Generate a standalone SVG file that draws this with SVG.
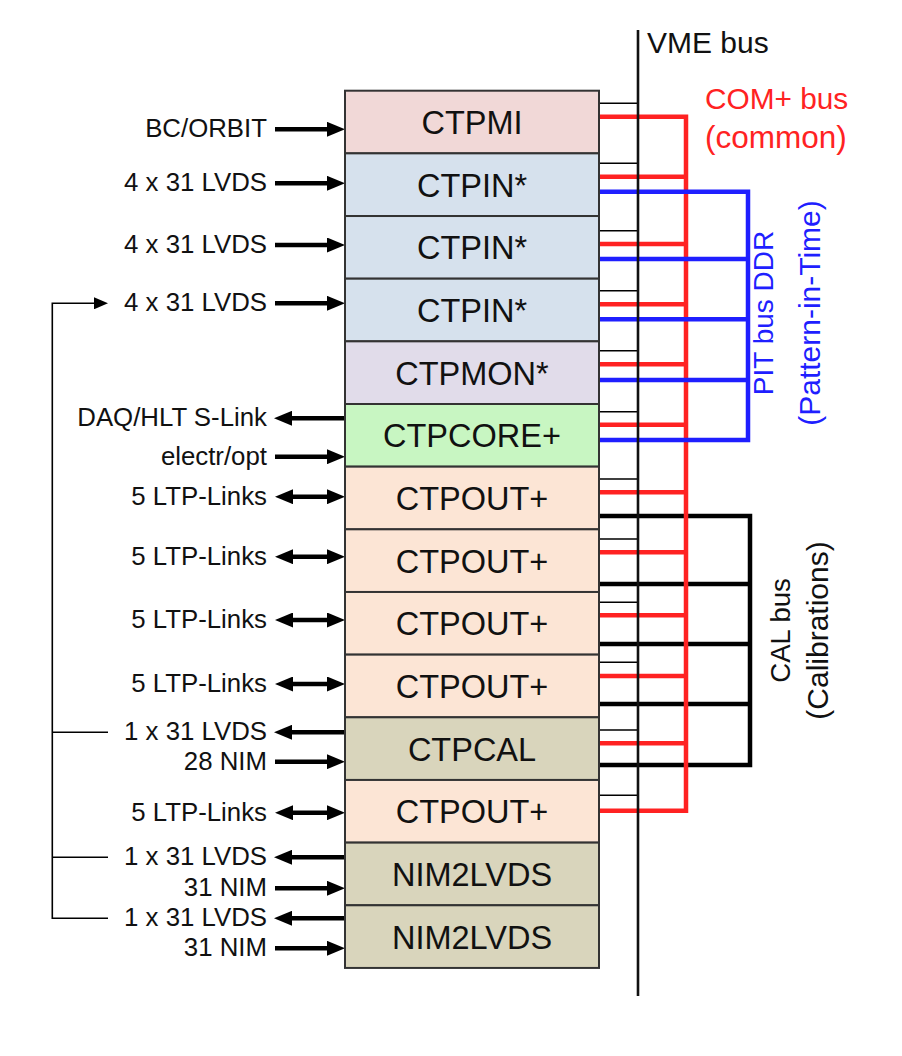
<svg xmlns="http://www.w3.org/2000/svg" width="902" height="1056" viewBox="0 0 902 1056">
<style>
.box{stroke:#333;stroke-width:2}
.bl{font-family:"Liberation Sans",Arial,sans-serif;font-size:32.5px;fill:#111;text-anchor:middle}
.ll{font-family:"Liberation Sans",Arial,sans-serif;font-size:25.8px;fill:#111;text-anchor:end}
.arr{stroke:#000;stroke-width:4.5;fill:none}
.thin{stroke:#000;stroke-width:1.6;fill:none}
.vme{stroke:#111;stroke-width:2.6;fill:none}
.red{stroke:#ff2222;stroke-width:4.5;fill:none}
.blue{stroke:#1f1fff;stroke-width:4.5;fill:none}
.cal{stroke:#000;stroke-width:4.5;fill:none}
.rt{font-family:"Liberation Sans",Arial,sans-serif}
</style>
<defs>
<marker id="ah" markerUnits="userSpaceOnUse" markerWidth="18" markerHeight="15" refX="8" refY="7.5" orient="auto-start-reverse">
<path d="M0,0 L18,7.5 L0,15 Z" fill="#000"/>
</marker>
<marker id="ta" markerUnits="userSpaceOnUse" markerWidth="14" markerHeight="12" refX="1" refY="6" orient="auto">
<path d="M0,0 L14,6 L0,12 Z" fill="#000"/>
</marker>
</defs>
<rect width="902" height="1056" fill="#fff"/>

<g id="connectors">
<g class="thin">
<path d="M599,103.3H638M599,163.3H638M599,230.7H638M599,290.7H638M599,350.7H638M599,411.7H638M599,479H638M599,539H638M599,602.3H638M599,662.3H638M599,730H638M599,795.3H638"/>
</g>
<path class="cal" d="M599,516H750V765H599M599,584H750M599,644H750M599,704H750"/>
<path class="red" d="M599,116.7H686V810.7H599M599,176.7H686M599,244H686M599,304.3H686M599,364.3H686M599,424.7H686M599,492.3H686M599,552.3H686M599,615.3H686M599,676H686M599,743.3H686"/>
<path class="blue" d="M599,191.7H748V440H599M599,259H748M599,319.3H748M599,380H748"/>
<path class="vme" d="M638,30V996"/>
<g class="arr">
<line x1="275" y1="129.3" x2="335" y2="129.3" marker-end="url(#ah)"/>
<line x1="275" y1="183.3" x2="335" y2="183.3" marker-end="url(#ah)"/>
<line x1="275" y1="245" x2="335" y2="245" marker-end="url(#ah)"/>
<line x1="275" y1="303.3" x2="335" y2="303.3" marker-end="url(#ah)"/>
<line x1="284" y1="418.3" x2="345" y2="418.3" marker-start="url(#ah)"/>
<line x1="275" y1="456.7" x2="335" y2="456.7" marker-end="url(#ah)"/>
<line x1="285" y1="496.7" x2="335" y2="496.7" marker-start="url(#ah)" marker-end="url(#ah)"/>
<line x1="285" y1="556.7" x2="335" y2="556.7" marker-start="url(#ah)" marker-end="url(#ah)"/>
<line x1="285" y1="620" x2="335" y2="620" marker-start="url(#ah)" marker-end="url(#ah)"/>
<line x1="285" y1="684" x2="335" y2="684" marker-start="url(#ah)" marker-end="url(#ah)"/>
<line x1="284" y1="732.3" x2="345" y2="732.3" marker-start="url(#ah)"/>
<line x1="275" y1="761.7" x2="335" y2="761.7" marker-end="url(#ah)"/>
<line x1="285" y1="812.7" x2="335" y2="812.7" marker-start="url(#ah)" marker-end="url(#ah)"/>
<line x1="284" y1="857.3" x2="345" y2="857.3" marker-start="url(#ah)"/>
<line x1="275" y1="888.3" x2="335" y2="888.3" marker-end="url(#ah)"/>
<line x1="284" y1="918.3" x2="345" y2="918.3" marker-start="url(#ah)"/>
<line x1="275" y1="948.3" x2="335" y2="948.3" marker-end="url(#ah)"/>
</g>
<path class="thin" d="M108,918.3H52.3V303.3H95" marker-end="url(#ta)"/>
<path class="thin" d="M52.3,732.3H108M52.3,857.3H108"/>
</g>

<g id="node-ctpmi"><rect class="box" x="345" y="90.7" width="254" height="62.66" fill="#f1d8d7"/><text class="bl" x="472" y="134">CTPMI</text></g>
<g id="node-ctpin1"><rect class="box" x="345" y="153.36" width="254" height="62.66" fill="#d6e1ed"/><text class="bl" x="472" y="196.7">CTPIN*</text></g>
<g id="node-ctpin2"><rect class="box" x="345" y="216.02" width="254" height="62.66" fill="#d6e1ed"/><text class="bl" x="472" y="259.3">CTPIN*</text></g>
<g id="node-ctpin3"><rect class="box" x="345" y="278.68" width="254" height="62.66" fill="#d6e1ed"/><text class="bl" x="472" y="322">CTPIN*</text></g>
<g id="node-ctpmon"><rect class="box" x="345" y="341.34" width="254" height="62.66" fill="#e1dcea"/><text class="bl" x="472" y="384.7">CTPMON*</text></g>
<g id="node-ctpcore"><rect class="box" x="345" y="404" width="254" height="62.66" fill="#c8f6c2"/><text class="bl" x="472" y="447.3">CTPCORE+</text></g>
<g id="node-ctpout1"><rect class="box" x="345" y="466.66" width="254" height="62.66" fill="#fce5d5"/><text class="bl" x="472" y="510">CTPOUT+</text></g>
<g id="node-ctpout2"><rect class="box" x="345" y="529.32" width="254" height="62.66" fill="#fce5d5"/><text class="bl" x="472" y="572.7">CTPOUT+</text></g>
<g id="node-ctpout3"><rect class="box" x="345" y="591.98" width="254" height="62.66" fill="#fce5d5"/><text class="bl" x="472" y="635.3">CTPOUT+</text></g>
<g id="node-ctpout4"><rect class="box" x="345" y="654.64" width="254" height="62.66" fill="#fce5d5"/><text class="bl" x="472" y="698">CTPOUT+</text></g>
<g id="node-ctpcal"><rect class="box" x="345" y="717.3" width="254" height="62.66" fill="#d9d5bc"/><text class="bl" x="472" y="760.6">CTPCAL</text></g>
<g id="node-ctpout5"><rect class="box" x="345" y="779.96" width="254" height="62.66" fill="#fce5d5"/><text class="bl" x="472" y="823.3">CTPOUT+</text></g>
<g id="node-nim2lvds1"><rect class="box" x="345" y="842.62" width="254" height="62.66" fill="#d9d5bc"/><text class="bl" x="472" y="886">NIM2LVDS</text></g>
<g id="node-nim2lvds2"><rect class="box" x="345" y="905.28" width="254" height="62.66" fill="#d9d5bc"/><text class="bl" x="472" y="948.6">NIM2LVDS</text></g>

<g id="labels">
<text class="ll" x="267" y="137.3">BC/ORBIT</text>
<text class="ll" x="267" y="191.3">4 x 31 LVDS</text>
<text class="ll" x="267" y="253">4 x 31 LVDS</text>
<text class="ll" x="267" y="311.3">4 x 31 LVDS</text>
<text class="ll" x="267" y="426.3">DAQ/HLT S-Link</text>
<text class="ll" x="267" y="464.7">electr/opt</text>
<text class="ll" x="267" y="504.7">5 LTP-Links</text>
<text class="ll" x="267" y="564.7">5 LTP-Links</text>
<text class="ll" x="267" y="628">5 LTP-Links</text>
<text class="ll" x="267" y="692">5 LTP-Links</text>
<text class="ll" x="267" y="740.3">1 x 31 LVDS</text>
<text class="ll" x="267" y="769.7">28 NIM</text>
<text class="ll" x="267" y="820.7">5 LTP-Links</text>
<text class="ll" x="267" y="865.3">1 x 31 LVDS</text>
<text class="ll" x="267" y="896.3">31 NIM</text>
<text class="ll" x="267" y="926.3">1 x 31 LVDS</text>
<text class="ll" x="267" y="956.3">31 NIM</text>
<text class="rt" x="647" y="53.3" font-size="30" fill="#111">VME bus</text>
<text class="rt" x="705" y="109.3" font-size="29.8" fill="#ff2222">COM+ bus</text>
<text class="rt" x="705" y="148" font-size="31.5" fill="#ff2222">(common)</text>
<text class="rt" transform="translate(773,313) rotate(-90)" text-anchor="middle" font-size="28" fill="#1f1fff">PIT bus DDR</text>
<text class="rt" transform="translate(820,313) rotate(-90)" text-anchor="middle" font-size="30" fill="#1f1fff">(Pattern-in-Time)</text>
<text class="rt" transform="translate(790,630.5) rotate(-90)" text-anchor="middle" font-size="27.5" fill="#111">CAL bus</text>
<text class="rt" transform="translate(828,630.5) rotate(-90)" text-anchor="middle" font-size="30" fill="#111">(Calibrations)</text>
</g>
</svg>
